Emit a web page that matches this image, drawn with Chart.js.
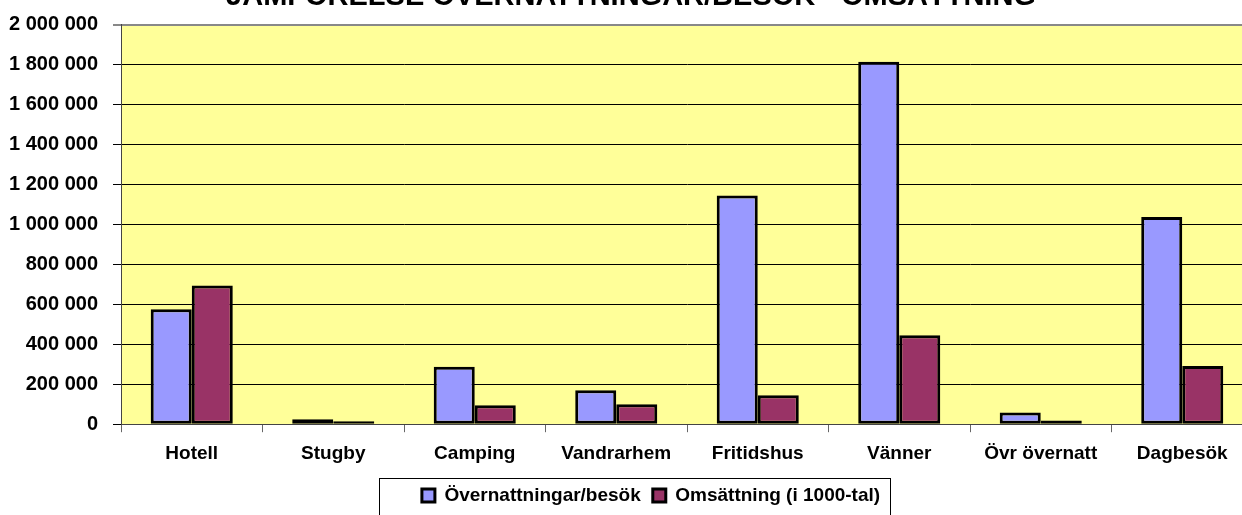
<!DOCTYPE html>
<html>
<head>
<meta charset="utf-8">
<script src="https://cdn.jsdelivr.net/npm/chart.js@4.4.0/dist/chart.umd.min.js"></script>
<style>
  html, body { margin: 0; padding: 0; background: #fff; overflow: hidden; }
  #wrap { position: relative; width: 1242px; height: 515px; overflow: hidden; }
  #chart { position: absolute; left: 0; top: -20px; }
</style>
</head>
<body>
<div id="wrap"><canvas id="chart" width="1265" height="535"></canvas></div>
<script>
const categories = ["Hotell", "Stugby", "Camping", "Vandrarhem", "Fritidshus", "Vänner", "Övr övernatt", "Dagbesök"];
const overnattningar = [575000, 25000, 288000, 170000, 1145000, 1815000, 58000, 1038000];
const omsattning = [695000, 15000, 95000, 100000, 145000, 445000, 18000, 292000];
const seriesNames = ["Övernattningar/besök", "Omsättning (i 1000-tal)"];
const chartTitle = "JÄMFÖRELSE ÖVERNATTNINGAR/BESÖK - OMSÄTTNING";

const font = "'Liberation Sans', Arial, sans-serif";
const legendShift = 20;

const formatTick = (v) => String(v).replace(/\B(?=(\d{3})+(?!\d))/g, " ");

// yellow plot area, legend nudged right, frame round the legend
const decor = {
  id: "decor",
  afterLayout(chart) {
    chart.legend.left += legendShift;
    chart.legend.right += legendShift;
  },
  beforeDraw(chart) {
    const a = chart.chartArea;
    const c = chart.ctx;
    c.save();
    c.fillStyle = "#FFFF99";
    c.fillRect(a.left, a.top, a.right - a.left, a.bottom - a.top);
    c.restore();
  },
  afterDraw(chart) {
    const hb = chart.legend.legendHitBoxes;
    if (!hb || !hb.length) return;
    const first = hb[0];
    const last = hb[hb.length - 1];
    const mid = first.top + first.height / 2;
    const x0 = first.left - 43;
    const x1 = last.left + last.width + 10;
    const c = chart.ctx;
    c.save();
    c.strokeStyle = "#000";
    c.lineWidth = 1;
    c.strokeRect(Math.round(x0) + 0.5, Math.round(mid - 18) + 0.5, Math.round(x1 - x0), 80);
    c.restore();
  }
};

new Chart(document.getElementById("chart").getContext("2d"), {
  type: "bar",
  data: {
    labels: categories,
    datasets: [
      {
        label: seriesNames[0],
        data: overnattningar,
        backgroundColor: "#9999FF",
        borderColor: "#000",
        borderWidth: 3,
        borderSkipped: false
      },
      {
        label: seriesNames[1],
        data: omsattning,
        backgroundColor: "#993366",
        borderColor: "#000",
        borderWidth: 3,
        borderSkipped: false
      }
    ]
  },
  options: {
    responsive: false,
    animation: false,
    layout: { padding: { left: 9, right: 12, top: 0, bottom: 0 } },
    datasets: { bar: { categoryPercentage: 0.58, barPercentage: 1.0 } },
    scales: {
      x: {
        grid: { drawOnChartArea: false, drawTicks: true, tickLength: 8, color: "#666", lineWidth: 1 },
        border: { color: "#444", width: 1 },
        ticks: { color: "#000", font: { family: font, size: 19, weight: "bold" }, padding: 10, maxRotation: 0 },
        afterFit: (s) => { s.height -= 1; }
      },
      y: {
        min: 0,
        max: 2000000,
        grid: {
          tickLength: 8,
          color: (ctx) => (ctx.tick && ctx.tick.value === 2000000 ? "#888" : "#000"),
          lineWidth: (ctx) => (ctx.tick && ctx.tick.value === 2000000 ? 2 : 1)
        },
        border: { color: "#444", width: 1 },
        ticks: {
          stepSize: 200000,
          color: "#000",
          padding: 15,
          font: { family: font, size: 20, weight: "bold" },
          callback: (v) => formatTick(v)
        },
        afterFit: (s) => { s.width = 112; }
      }
    },
    plugins: {
      title: {
        display: true,
        text: chartTitle,
        color: "#000",
        font: { family: font, size: 29, weight: "bold" },
        padding: { top: 0, bottom: 10 }
      },
      legend: {
        position: "bottom",
        labels: {
          color: "#000",
          font: { family: font, size: 19, weight: "bold" },
          boxWidth: 13,
          boxHeight: 13,
          padding: 12
        }
      },
      tooltip: { enabled: false }
    }
  },
  plugins: [decor]
});
</script>
</body>
</html>
